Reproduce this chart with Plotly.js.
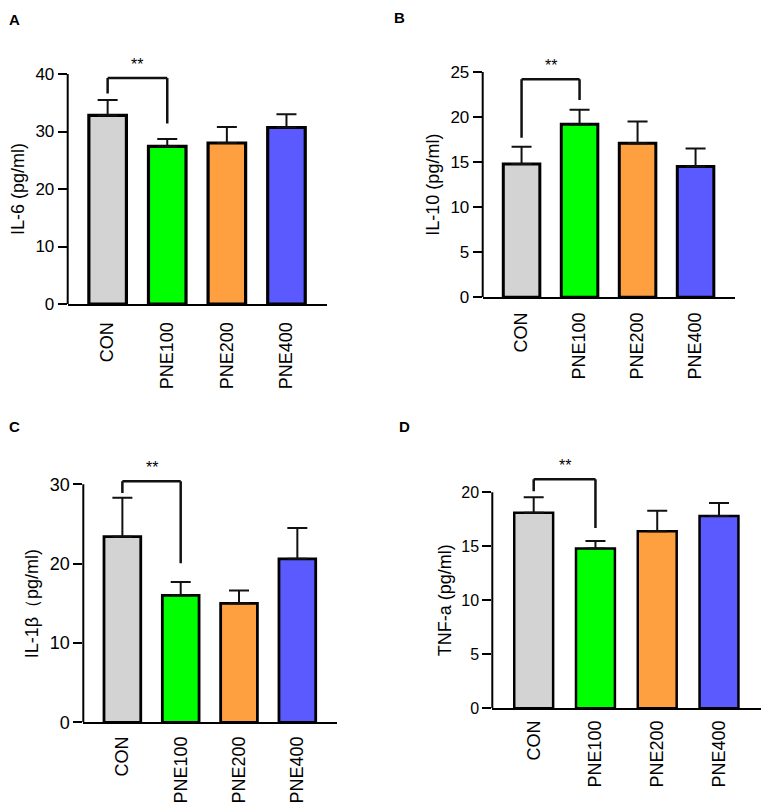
<!DOCTYPE html>
<html>
<head>
<meta charset="utf-8">
<script src="https://cdn.plot.ly/plotly-3.0.1.min.js"></script>
<style>
  html, body { margin: 0; padding: 0; background: #fff; }
  #chart { width: 765px; height: 808px; }
</style>
</head>
<body>
<div id="chart"></div>
<script>
// groups
const groups = ['CON', 'PNE100', 'PNE200', 'PNE400'];
const barColors = ['#d3d3d3', '#00ff00', '#ffa040', '#5a5aff'];

// A: IL-6
const il6 = [32.8, 27.4, 28.0, 30.7];
const il6Err = [2.7, 1.3, 2.8, 2.3];
const il6Ticks = [0, 10, 20, 30, 40];
const il6Bracket = [39.3, 36.6, 31.4];   // top, left leg end, right leg end

// B: IL-10
const il10 = [14.8, 19.2, 17.1, 14.5];
const il10Err = [1.9, 1.6, 2.4, 2.0];
const il10Ticks = [0, 5, 10, 15, 20, 25];
const il10Bracket = [24.2, 17.7, 21.9];

// C: IL-1β
const il1b = [23.4, 16.0, 15.0, 20.6];
const il1bErr = [4.9, 1.7, 1.6, 3.9];
const il1bTicks = [0, 10, 20, 30];
const il1bBracket = [30.4, 28.9, 20.05];

// D: TNF-a
const tnf = [18.1, 14.8, 16.4, 17.8];
const tnfErr = [1.45, 0.7, 1.9, 1.2];
const tnfTicks = [0, 5, 10, 15, 20];
const tnfBracket = [21.2, 20.1, 16.7];

const W = 765, H = 808;
const FONT = 'Arial, "Liberation Sans", sans-serif';

// pixel geometry of each panel: left/right of plot, y pixel of top tick and of zero
const panels = [
  { vals: il6,  err: il6Err,  ticks: il6Ticks,  br: il6Bracket,  title: 'IL-6 (pg/ml)',   letter: 'A',
    left: 67.7, right: 327, topPx: 74, zeroPx: 304, lw: 3.2, lx: 7, ly: 19, so: 9, tf: 17, tx: 18 },
  { vals: il10, err: il10Err, ticks: il10Ticks, br: il10Bracket, title: 'IL-10 (pg/ml)',  letter: 'B',
    left: 482.7, right: 735, topPx: 72, zeroPx: 297.3, lw: 3, lx: 392, ly: 17, so: 6, tf: 17, tx: 433 },
  { vals: il1b, err: il1bErr, ticks: il1bTicks, br: il1bBracket, title: 'IL-1β\uFF08pg/ml)', letter: 'C',
    left: 83.3, right: 337, topPx: 484.3, zeroPx: 722.3, lw: 2.8, lx: 7, ly: 426, so: 5, tf: 18, tx: 32 },
  { vals: tnf,  err: tnfErr,  ticks: tnfTicks,  br: tnfBracket,  title: 'TNF-a (pg/ml)',  letter: 'D',
    left: 492.3, right: 761, topPx: 492.3, zeroPx: 708.3, lw: 2.5, lx: 397, ly: 426, so: 3, tf: 16, tx: 445 }
];

const HEAD = 1.12;  // headroom above top tick for brackets
const data = [];
const layout = {
  width: W, height: H,
  margin: { l: 0, r: 0, t: 0, b: 0 },
  paper_bgcolor: '#fff', plot_bgcolor: '#fff',
  showlegend: false,
  font: { family: FONT, color: '#000' },
  bargap: 0.37,
  shapes: [], annotations: []
};

panels.forEach((p, i) => {
  const n = i === 0 ? '' : String(i + 1);
  const xa = 'x' + n, ya = 'y' + n;
  const yMax = p.ticks[p.ticks.length - 1];
  const len = p.zeroPx - p.topPx;
  const plotTop = p.zeroPx - len * HEAD;

  data.push({
    type: 'bar', x: groups, y: p.vals,
    xaxis: xa, yaxis: ya,
    marker: { color: barColors, line: { color: '#000', width: p.lw } },
    error_y: { type: 'data', symmetric: false, array: p.err, arrayminus: [0, 0, 0, 0],
               color: '#111', thickness: 2, width: 10 },
    hoverinfo: 'x+y'
  });

  layout['xaxis' + n] = {
    domain: [p.left / W, p.right / W], anchor: ya,
    range: [-0.67, 3.68], fixedrange: true,
    showline: true, linecolor: '#000', linewidth: 2,
    ticks: '', tickangle: -90, ticklabelstandoff: p.so,
    tickfont: { size: 18, family: FONT, color: '#000' },
    showgrid: false, zeroline: false
  };
  layout['yaxis' + n] = {
    domain: [1 - p.zeroPx / H, 1 - plotTop / H], anchor: xa,
    range: [0, yMax * HEAD], fixedrange: true,
    tickvals: p.ticks, ticktext: p.ticks.map(String),
    showline: false, ticks: 'outside', ticklen: 9, tickwidth: 2, tickcolor: '#000',
    tickfont: { size: p.tf, family: FONT, color: '#000' },
    showgrid: false, zeroline: false
  };

  // y axis line, ending at the top tick
  layout.shapes.push({ type: 'line', xref: xa + ' domain', yref: ya,
    x0: 0, x1: 0, y0: 0, y1: yMax, line: { color: '#000', width: 2 } });

  // y axis title, centred on the drawn axis line
  layout.annotations.push({
    xref: 'paper', yref: ya, x: p.tx / W, y: yMax / 2, xanchor: 'center', yanchor: 'middle',
    textangle: -90, showarrow: false, text: p.title,
    font: { size: 18, family: FONT, color: '#000' }
  });

  // significance bracket CON vs PNE100
  const bl = { color: '#111', width: 2.5 };
  layout.shapes.push(
    { type: 'line', xref: xa, yref: ya, x0: 0, x1: 0, y0: p.br[1], y1: p.br[0], line: bl },
    { type: 'line', xref: xa, yref: ya, x0: 0, x1: 1, y0: p.br[0], y1: p.br[0], line: bl },
    { type: 'line', xref: xa, yref: ya, x0: 1, x1: 1, y0: p.br[0], y1: p.br[2], line: bl }
  );
  layout.annotations.push({
    xref: xa, yref: ya, x: 0.5, y: p.br[0], yanchor: 'bottom', yshift: 3,
    text: '**', showarrow: false, font: { size: 16, family: FONT, color: '#000' }
  });

  // panel letter
  layout.annotations.push({
    xref: 'paper', yref: 'paper', x: p.lx / W, y: 1 - p.ly / H,
    xanchor: 'left', yanchor: 'middle', showarrow: false,
    text: '<b>' + p.letter + '</b>', font: { size: 15, family: FONT, color: '#000' }
  });
});

Plotly.newPlot('chart', data, layout, { displayModeBar: false, staticPlot: true });
</script>
</body>
</html>
